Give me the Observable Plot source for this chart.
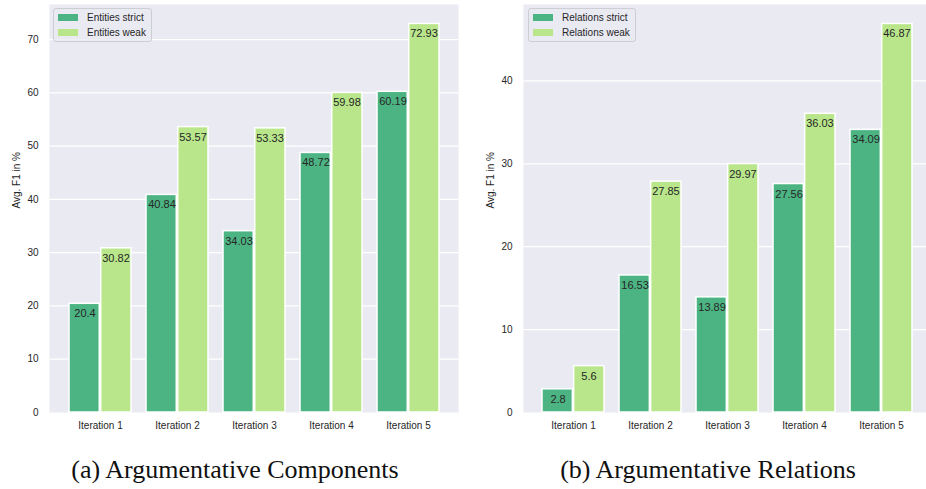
<!DOCTYPE html>
<html>
<head>
<meta charset="utf-8">
<script src="https://cdn.jsdelivr.net/npm/d3@7"></script>
<script src="https://cdn.jsdelivr.net/npm/@observablehq/plot@0.6"></script>
<style>
  html, body { margin: 0; padding: 0; background: #fff; }
  #fig { position: relative; width: 926px; height: 489px; overflow: hidden; background: #fff; }
  .panel { position: absolute; top: 0; }
  .panel svg { display: block; max-width: none !important; }
  .legend {
    position: absolute; top: 8px;
    border: 1px solid #cdcdd4; border-radius: 3px;
    background: rgba(234, 234, 242, 0.8);
    padding: 1px 5px 1px 4px;
    font: 10px "Liberation Sans", Arial, sans-serif; color: #262626;
  }
  .legend .row { display: flex; align-items: center; height: 15px; white-space: nowrap; }
  .legend .sw { width: 20px; height: 7px; margin-right: 9px; }
  .caption {
    position: absolute; top: 457px; text-align: center;
    font: 26px "Liberation Serif", "DejaVu Serif", serif; line-height: 1; color: #111;
  }
</style>
</head>
<body>
<div id="fig">
  <div class="panel" id="panel-a" style="left:0px;width:463px"></div>
  <div class="panel" id="panel-b" style="left:470px;width:470px"></div>
  <div class="caption" style="left:0px;width:470px">(a) Argumentative Components</div>
  <div class="caption" style="left:470px;width:476px">(b) Argumentative Relations</div>
</div>
<script>
// Categories and series values
const iterations = ["Iteration 1", "Iteration 2", "Iteration 3", "Iteration 4", "Iteration 5"];
const entitiesStrict = [20.4, 40.84, 34.03, 48.72, 60.19];
const entitiesWeak = [30.82, 53.57, 53.33, 59.98, 72.93];
const relationsStrict = [2.8, 16.53, 13.89, 27.56, 34.09];
const relationsWeak = [5.6, 27.85, 29.97, 36.03, 46.87];

// Tick values and labels
const entitiesTicks = [0, 10, 20, 30, 40, 50, 60, 70];
const relationsTicks = [0, 10, 20, 30, 40];
const entitiesSeries = ["Entities strict", "Entities weak"];
const relationsSeries = ["Relations strict", "Relations weak"];
const yLabel = "Avg. F1 in %";

// Palette
const seriesColors = ["#4cb482", "#b9e68b"];
const panelBg = "#eaeaf2";

function groupedBars({strict, weak, ticks, width, marginLeft, marginRight}) {
  const height = 440, marginTop = 4, marginBottom = 28;
  const paddingInner = 0.2, paddingOuter = 0.24;
  const n = iterations.length;
  const step = (width - marginLeft - marginRight) / (n - paddingInner + 2 * paddingOuter);
  const bandwidth = step * (1 - paddingInner);
  const half = bandwidth / 2;
  const ymax = d3.max([...strict, ...weak]) * 1.05;

  const strictRows = iterations.map((it, i) => ({iteration: it, value: strict[i]}));
  const weakRows = iterations.map((it, i) => ({iteration: it, value: weak[i]}));

  return Plot.plot({
    width, height, marginTop, marginBottom, marginLeft, marginRight,
    style: {fontSize: "10px", fontFamily: "'Liberation Sans', Arial, sans-serif", color: "#262626", background: "transparent", maxWidth: "none"},
    x: {domain: iterations, paddingInner, paddingOuter},
    y: {domain: [0, ymax]},
    marks: [
      Plot.frame({fill: panelBg, stroke: "none"}),
      Plot.gridY(ticks.filter(t => t > 0), {stroke: "white", strokeOpacity: 1, strokeWidth: 1.2}),
      Plot.barY(strictRows, {x: "iteration", y: "value", fill: seriesColors[0], stroke: "white", strokeWidth: 1.5, insetRight: half + 0.75}),
      Plot.barY(weakRows, {x: "iteration", y: "value", fill: seriesColors[1], stroke: "white", strokeWidth: 1.5, insetLeft: half + 0.75}),
      Plot.text(strictRows, {x: "iteration", y: "value", text: d => String(d.value), dx: -half / 2, dy: 10, fontSize: 11, fill: "#262626"}),
      Plot.text(weakRows, {x: "iteration", y: "value", text: d => String(d.value), dx: half / 2, dy: 10, fontSize: 11, fill: "#262626"}),
      Plot.axisX({tickSize: 0, tickPadding: 9, label: null}),
      Plot.axisY({ticks, tickSize: 0, tickPadding: 11, label: null}),
      Plot.text([yLabel], {frameAnchor: "left", text: d => d, rotate: -90, dx: -33, fontSize: 10, fill: "#262626"})
    ]
  });
}

function legend(names, left) {
  const box = document.createElement("div");
  box.className = "legend";
  box.style.left = left + "px";
  names.forEach((name, i) => {
    const row = document.createElement("div");
    row.className = "row";
    const sw = document.createElement("div");
    sw.className = "sw";
    sw.style.background = seriesColors[i];
    const label = document.createElement("span");
    label.textContent = name;
    row.append(sw, label);
    box.append(row);
  });
  return box;
}

const panelA = document.getElementById("panel-a");
panelA.append(groupedBars({strict: entitiesStrict, weak: entitiesWeak, ticks: entitiesTicks, width: 463, marginLeft: 49, marginRight: 5}));
panelA.append(legend(entitiesSeries, 53));

const panelB = document.getElementById("panel-b");
panelB.append(groupedBars({strict: relationsStrict, weak: relationsWeak, ticks: relationsTicks, width: 470, marginLeft: 53, marginRight: 9}));
panelB.append(legend(relationsSeries, 58));
</script>
</body>
</html>
